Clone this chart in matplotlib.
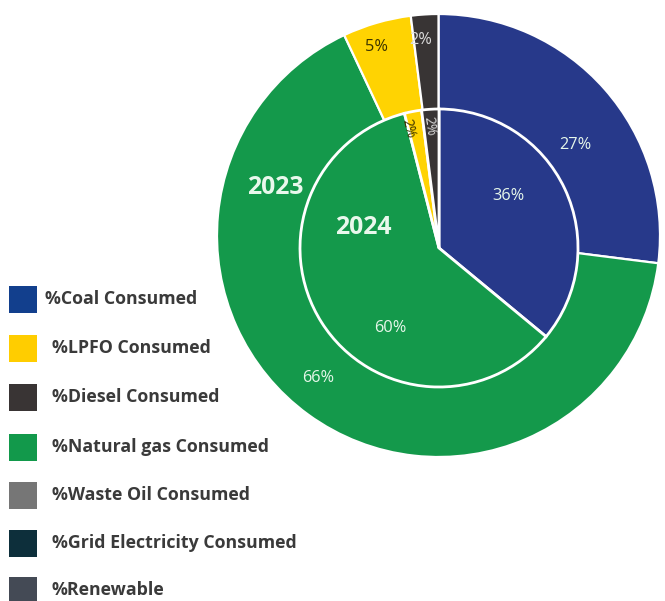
import matplotlib
matplotlib.use("Agg")
import matplotlib.pyplot as plt
from matplotlib.patches import Rectangle

# Fuel mix shares (%), outer ring = 2023, inner pie = 2024
fuels = ["Coal", "Natural gas", "LPFO", "Diesel"]
share_2023 = [27, 66, 5, 2]
share_2024 = [36, 60, 2, 2]
fuel_colors = {"Coal": "#27398a", "Natural gas": "#14994b",
               "LPFO": "#ffd302", "Diesel": "#383434"}

legend_labels = ["%Coal Consumed", "%LPFO Consumed", "%Diesel Consumed",
                 "%Natural gas Consumed", "%Waste Oil Consumed",
                 "%Grid Electricity Consumed", "%Renewable"]
legend_colors = ["#123f8d", "#ffcd00", "#393434", "#12994b",
                 "#767676", "#0d2f3b", "#444a55"]

W, H = 665, 601
fig = plt.figure(figsize=(W / 100, H / 100), dpi=100)
ax = fig.add_axes([0, 0, 1, 1])


def py(y):
    """Convert a top-down pixel row to the axis y coordinate."""
    return H - y


cols = [fuel_colors[f] for f in fuels]
outer_center = (438.5, py(235.5))
ax.pie(share_2023, colors=cols, startangle=90, counterclock=False,
       radius=221.5, center=outer_center, frame=True,
       wedgeprops=dict(edgecolor="white", linewidth=1.6))

inner_center = (439, py(248))
ax.pie(share_2024, colors=cols, startangle=90, counterclock=False,
       radius=139, center=inner_center, frame=True,
       wedgeprops=dict(edgecolor="white", linewidth=2.0))
ax.set_xlim(0, W)
ax.set_ylim(0, H)
ax.set_aspect("equal")
ax.axis("off")

light = "#e6f7ea"
fam = ["Open Sans", "DejaVu Sans"]
pct_font = dict(family=fam, fontsize=11.8, ha="center", va="center")

# 2023 ring labels
ax.text(575, py(145), f"{share_2023[0]}%", color=light, **pct_font)
ax.text(318, py(378), f"{share_2023[1]}%", color=light, **pct_font)
ax.text(377, py(47), f"{share_2023[2]}%", color="#3a3300", **pct_font)
ax.text(421, py(40), f"{share_2023[3]}%", color="#dcdcdc", **pct_font)

# 2024 pie labels
ax.text(508, py(196), f"{share_2024[0]}%", color=light, **pct_font)
ax.text(390, py(328), f"{share_2024[1]}%", color=light, **pct_font)
ax.text(408, py(129), f"{share_2024[2]}%", color="#3a3300", ha="center", va="center",
        rotation=-76, family=fam, fontsize=10)
ax.text(429, py(126), f"{share_2024[3]}%", color="#dcdcdc", ha="center", va="center",
        rotation=-82, family=fam, fontsize=10)

year_font = dict(family=fam, fontsize=17.8, fontweight="bold",
                 color="#e9f8ec", ha="center", va="center")
ax.text(275, py(187), "2023", **year_font)
ax.text(363, py(228), "2024", **year_font)

# Legend
legend_y = [299, 348, 397, 447, 495, 543, 590]
for i, (lab, col, yc) in enumerate(zip(legend_labels, legend_colors, legend_y)):
    ax.add_patch(Rectangle((8.5, py(yc + 13.5)), 28.5, 27, facecolor=col, edgecolor="none"))
    tx = 45 if i == 0 else 51.5
    ax.text(tx, py(yc), lab, ha="left", va="center", color="#3a3a3a",
            family=fam, fontsize=12.8, fontweight="bold")

fig.savefig("out.png", dpi=100)
